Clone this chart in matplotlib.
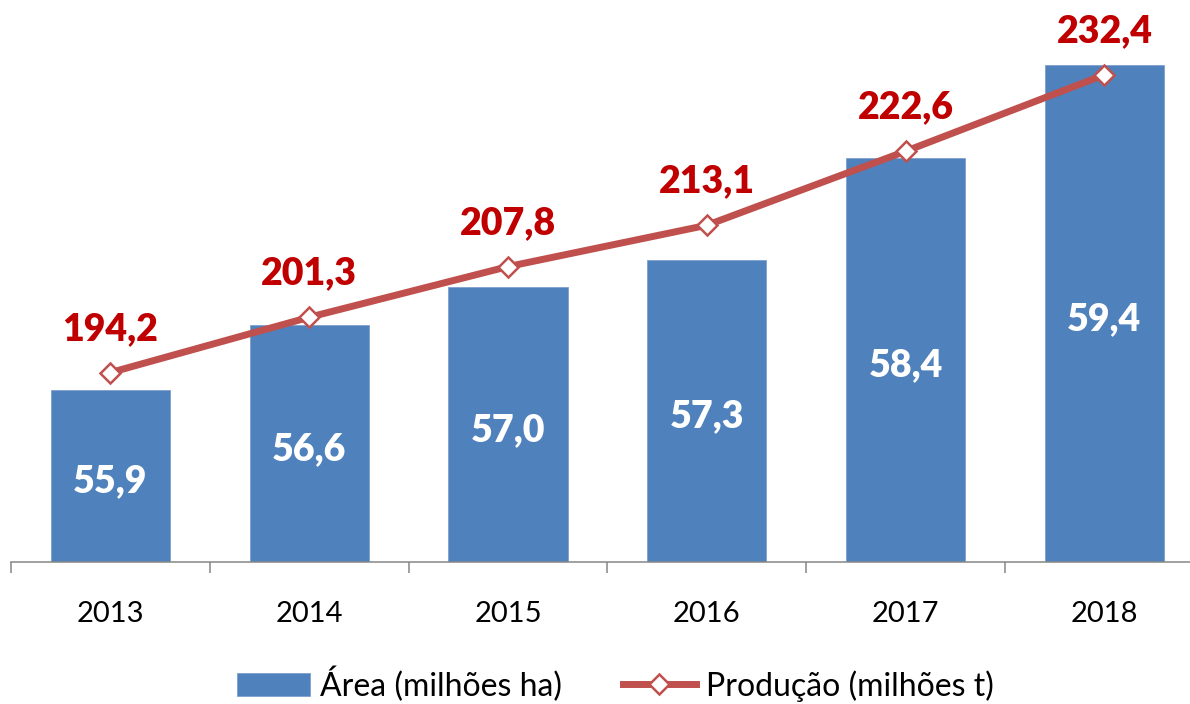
import matplotlib.pyplot as plt
import numpy as np

# data
anos = ['2013', '2014', '2015', '2016', '2017', '2018']
area = [55.9, 56.6, 57.0, 57.3, 58.4, 59.4]          # milhões ha
producao = [194.2, 201.3, 207.8, 213.1, 222.6, 232.4]  # milhões t

azul = '#4F81BD'
linha = '#C0504D'
rotulo = '#C00000'

plt.rcParams['font.family'] = ['Lato', 'DejaVu Sans']

fig = plt.figure(figsize=(11.9, 7.04), dpi=100)
# axes goes a bit past the right edge, like the cropped original
ax = fig.add_axes([11 / 1190, 1 - 562 / 704, 6 * 198.8 / 1190, 562 / 704])
x = np.arange(len(anos))

ax.bar(x, area, width=0.6, color=azul, edgecolor='#7FA1CE', linewidth=0.6,
       label='Área (milhões ha)', zorder=2)
ax.set_ylim(54.04, 60.10)
ax.set_xlim(-0.5, len(anos) - 0.5)

# bar labels, centred in the visible part of each bar
base = ax.get_ylim()[0]
for xi, v in zip(x, area):
    ax.annotate(f'{v:.1f}'.replace('.', ','), xy=(xi, (v + base) / 2),
                xytext=(0, -12), textcoords='offset points',
                ha='center', va='baseline', color='white',
                fontsize=27, fontweight='heavy')

ax2 = ax.twinx()
ax2.plot(x, producao, color=linha, lw=5, marker='D', ms=10,
         mfc='white', mec=linha, mew=1.8, label='Produção (milhões t)', zorder=3)
ax2.set_ylim(169.9, 242.0)
for xi, v in zip(x, producao):
    ax2.annotate(f'{v:.1f}'.replace('.', ','), xy=(xi, v),
                 xytext=(0, 23.5), textcoords='offset points',
                 ha='center', va='baseline', color=rotulo,
                 fontsize=27, fontweight='heavy')

# axis styling
for a in (ax, ax2):
    for s in ['top', 'left', 'right']:
        a.spines[s].set_visible(False)
ax2.spines['bottom'].set_visible(False)
ax.spines['bottom'].set_color('#868686')
ax.spines['bottom'].set_linewidth(1.1)
ax.set_yticks([])
ax2.set_yticks([])
ax.set_xticks(x)
ax.set_xticklabels(anos, fontsize=21)
ax.set_xticks(np.arange(len(anos) + 1) - 0.5, minor=True)
ax.tick_params(axis='x', which='major', length=0, pad=28)
ax.tick_params(axis='x', which='minor', length=8, width=1.1, color='#868686', direction='out')

h1, l1 = ax.get_legend_handles_labels()
h2, l2 = ax2.get_legend_handles_labels()
fig.legend(h1 + h2, l1 + l2, loc='center', bbox_to_anchor=(0.517, 1 - 684 / 704),
           ncol=2, frameon=False, fontsize=23, handlelength=2.3,
           handletextpad=0.3, columnspacing=1.9)

fig.savefig('out.png', dpi=100)
